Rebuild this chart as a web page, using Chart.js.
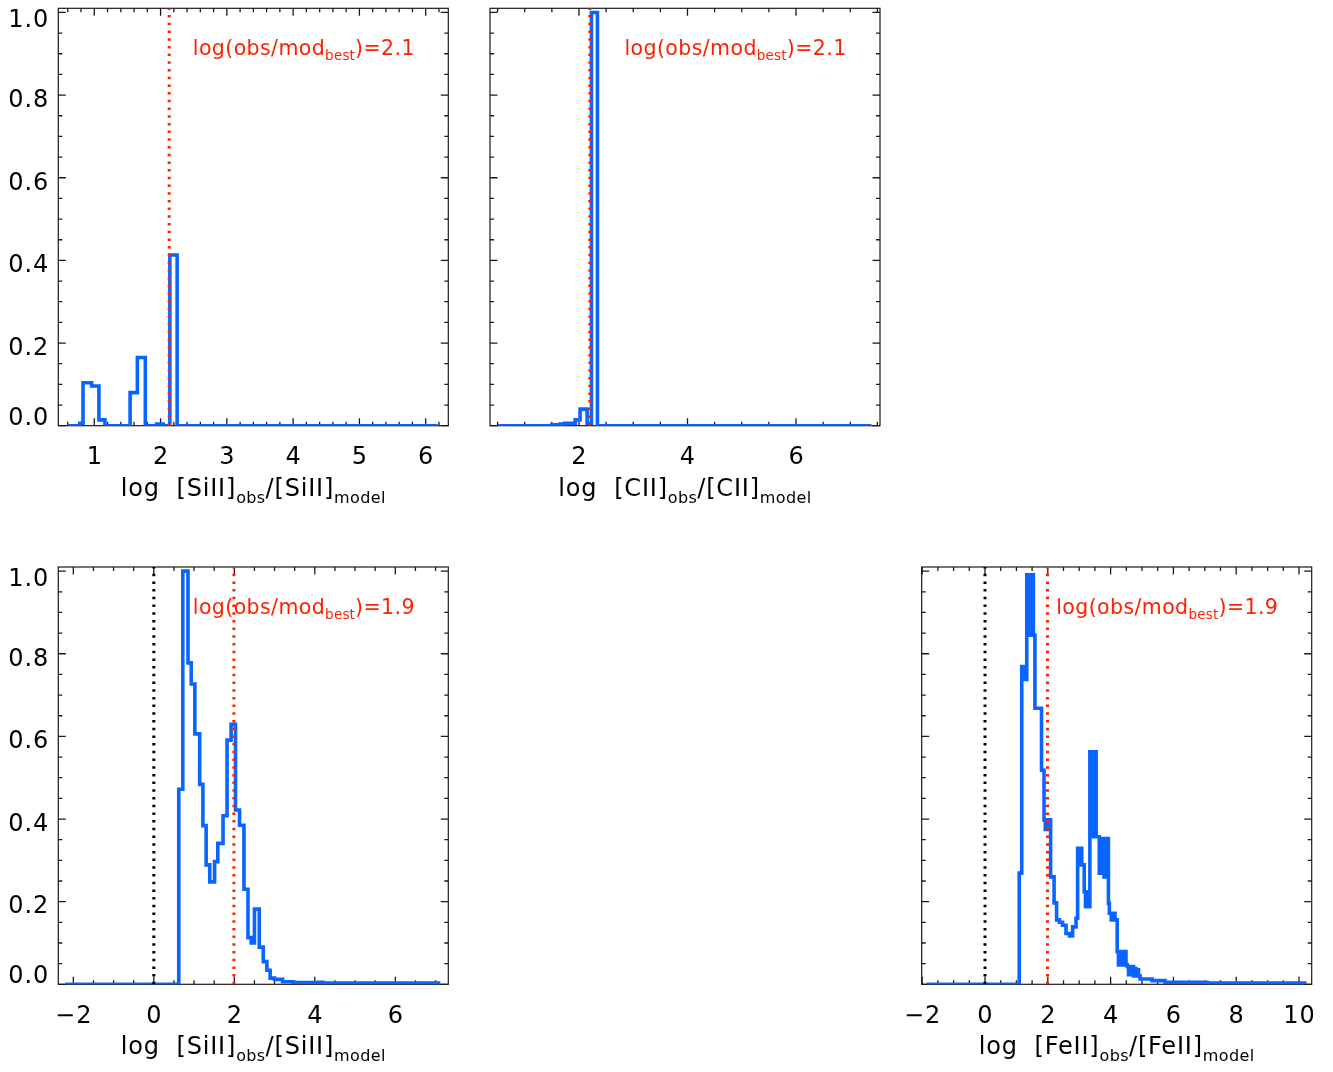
<!DOCTYPE html>
<html>
<head>
<meta charset="utf-8">
<script src="https://cdn.jsdelivr.net/npm/chart.js@4.4.1/dist/chart.umd.min.js"></script>
<style>
  html, body { margin: 0; padding: 0; background: #fff; }
  body { width: 1333px; height: 1072px; position: relative; overflow: hidden; }
  .panel { position: absolute; }
</style>
</head>
<body>
<div class="panel" style="left:0;top:0;width:460px;height:520px"><canvas id="siTop"></canvas></div>
<div class="panel" style="left:480px;top:0;width:420px;height:520px"><canvas id="cii"></canvas></div>
<div class="panel" style="left:0;top:550px;width:460px;height:522px"><canvas id="siBot"></canvas></div>
<div class="panel" style="left:890px;top:550px;width:443px;height:522px"><canvas id="feii"></canvas></div>
<script>
// histograms: left edge of each bin and its normalised count
const siTopEdges  = [0.61, 0.78, 0.83, 0.96, 1.07, 1.16, 1.54, 1.65, 1.77, 1.94, 2.04, 2.14, 2.25, 6.18];
const siTopValues = [0, 0.006, 0.104, 0.096, 0.014, 0, 0.08, 0.165, 0, 0.004, 0, 0.413, 0, 0];
const siTopBest = 2.13;

const ciiEdges  = [0.51, 1.50, 1.65, 1.74, 1.93, 2.02, 2.15, 2.23, 2.34, 7.39];
const ciiValues = [0, 0.002, 0.004, 0.006, 0.014, 0.04, 0.006, 1.0, 0, 0];
const ciiBest = 2.2;

const siBotEdges  = [-2.2, 0.62, 0.72, 0.85, 0.93, 1.02, 1.14, 1.22, 1.30, 1.39, 1.51, 1.59, 1.72, 1.82, 1.92,
                     2.03, 2.13, 2.24, 2.34, 2.42, 2.50, 2.62, 2.72, 2.81, 2.89, 3.00, 3.20, 3.45, 4.10, 4.20, 7.12];
const siBotValues = [0, 0.472, 1.0, 0.778, 0.727, 0.606, 0.484, 0.384, 0.289, 0.248, 0.297, 0.341, 0.408, 0.591, 0.629,
                     0.422, 0.385, 0.23, 0.113, 0.10, 0.182, 0.09, 0.055, 0.034, 0.015, 0.012, 0.006, 0.004, 0.005, 0.003, 0.003];
const siBotBest = 1.99;

const feEdges  = [-1.86, 1.09, 1.17, 1.21, 1.25, 1.29, 1.33, 1.37, 1.41, 1.45, 1.49, 1.54, 1.59, 1.80,
                  1.88, 1.92, 1.96, 2.00, 2.04, 2.09, 2.20, 2.28, 2.37, 2.47, 2.58, 2.69, 2.79, 2.90,
                  2.95, 3.00, 3.04, 3.08, 3.16, 3.20, 3.24, 3.28, 3.34, 3.38, 3.42, 3.46, 3.50, 3.54, 3.64,
                  3.75, 3.79, 3.83, 3.87, 3.90, 3.93, 3.96, 4.02, 4.08, 4.14, 4.21, 4.25, 4.29, 4.33, 4.37, 4.41, 4.45, 4.49,
                  4.53, 4.57, 4.61, 4.65, 4.69, 4.73, 4.77, 4.81, 4.85, 4.89, 4.94, 5.32, 5.73, 7.07, 10.24];
const feValues = [0, 0.269, 0.769, 0.738, 0.769, 0.738, 0.991, 0.845, 0.991, 0.845, 0.991, 0.845, 0.668, 0.518,
                  0.398, 0.375, 0.398, 0.375, 0.398, 0.26, 0.197, 0.156, 0.15, 0.143, 0.123, 0.117, 0.139, 0.16,
                  0.329, 0.289, 0.329, 0.289, 0.224, 0.188, 0.224, 0.188, 0.563, 0.357, 0.563, 0.357, 0.563, 0.357, 0.269,
                  0.353, 0.26, 0.353, 0.26, 0.353, 0.196, 0.172, 0.156, 0.172, 0.156, 0.079, 0.047, 0.079, 0.047, 0.079, 0.047, 0.079, 0.047,
                  0.043, 0.023, 0.043, 0.023, 0.043, 0.02, 0.038, 0.02, 0.035, 0.02, 0.013, 0.009, 0.005, 0.003, 0.003];
const feBest = 1.99;

const zeroLine = 0;
const yTop = 1.01;

const BLUE = '#0a64ff';
const RED = '#ff2000';
const INK = '#1a1a1a';
const FONT = '"DejaVu Sans", "Liberation Sans", sans-serif';

function ticksBetween(min, max, minor, major) {
  const out = [];
  for (let k = Math.ceil(min / minor - 1e-9); k * minor <= max + 1e-9; k++) {
    const v = k * minor;
    const r = v / major;
    out.push({ v, major: Math.abs(r - Math.round(r)) < 1e-6 });
  }
  return out;
}

function fmtX(v) {
  const n = Math.round(v);
  return n < 0 ? '\u2212' + Math.abs(n) : String(n);
}

// draw a run of [text, isSub] pieces starting at x
function drawPieces(ctx, pieces, x, base, size, subSize, subDrop, spacing) {
  for (const [txt, sub] of pieces) {
    ctx.font = (sub ? subSize : size) + 'px ' + FONT;
    ctx.letterSpacing = (sub ? spacing / 2 : spacing) + 'px';
    ctx.fillText(txt, x, sub ? base + subDrop : base);
    x += ctx.measureText(txt).width;
  }
  return x;
}
function piecesWidth(ctx, pieces, size, subSize, spacing) {
  let w = 0;
  for (const [txt, sub] of pieces) {
    ctx.font = (sub ? subSize : size) + 'px ' + FONT;
    ctx.letterSpacing = (sub ? spacing / 2 : spacing) + 'px';
    w += ctx.measureText(txt).width;
  }
  return w;
}

// IDL-like box: inward ticks on all sides, labels, axis title, best-fit note
const idlFrame = {
  id: 'idlFrame',
  beforeDatasetsDraw(chart, args, o) {
    const { ctx, chartArea: a, scales: { x, y } } = chart;
    ctx.save();

    // note (under the dotted lines)
    ctx.fillStyle = RED;
    ctx.textAlign = 'left';
    ctx.textBaseline = 'alphabetic';
    drawPieces(ctx, [['log(obs/mod', false], ['best', true], [')=' + o.note, false]],
      a.left + 134.5, a.top + 47, 20.5, 13.5, 5, 0.4);

    // frame
    ctx.strokeStyle = INK;
    ctx.lineWidth = 1.2;
    ctx.strokeRect(a.left, a.top, a.right - a.left, a.bottom - a.top);

    ctx.lineWidth = 1.3;
    ctx.beginPath();
    for (const t of ticksBetween(x.min, x.max, o.xMinor, o.xMajor)) {
      const px = x.getPixelForValue(t.v);
      const len = t.major ? 7.5 : 4;
      ctx.moveTo(px, a.bottom); ctx.lineTo(px, a.bottom - len);
      ctx.moveTo(px, a.top); ctx.lineTo(px, a.top + len);
    }
    for (const t of ticksBetween(0, y.max, 0.05, 0.2)) {
      const py = y.getPixelForValue(t.v);
      const len = t.major ? 7.5 : 4;
      ctx.moveTo(a.left, py); ctx.lineTo(a.left + len, py);
      ctx.moveTo(a.right, py); ctx.lineTo(a.right - len, py);
    }
    ctx.stroke();

    // tick labels
    ctx.fillStyle = '#000';
    ctx.font = '24px ' + FONT;
    ctx.letterSpacing = '1px';
    ctx.textAlign = 'center';
    for (const t of ticksBetween(x.min, x.max, o.xMajor, o.xMajor)) {
      ctx.fillText(fmtX(t.v), x.getPixelForValue(t.v) + 0.5, a.bottom + 38.3);
    }
    if (o.yLabels) {
      ctx.textAlign = 'right';
      for (const t of ticksBetween(0, y.max, 0.2, 0.2)) {
        const py = y.getPixelForValue(t.v);
        const base = Math.min(Math.max(py + 11.8, a.top + 19), a.bottom - 1);
        ctx.fillText(t.v.toFixed(1), a.left - 9, base);
      }
    }

    // axis title with subscripts
    ctx.textAlign = 'left';
    const ion = o.ion;
    const title = [['log  [' + ion + ']', false], ['obs', true], ['/[' + ion + ']', false], ['model', true]];
    const w = piecesWidth(ctx, title, 24, 16, 0.8);
    drawPieces(ctx, title, (a.left + a.right) / 2 - w / 2, a.bottom + 70, 24, 16, 7, 0.8);

    ctx.restore();
  }
};

function vline(xv, color) {
  return {
    data: [{ x: xv, y: 0 }, { x: xv, y: yTop }],
    borderColor: color,
    borderWidth: 3,
    borderDash: [2.5, 5.2],
    pointRadius: 0
  };
}

function histPanel(id, edges, values, best, showZero, cfg) {
  const datasets = [vline(best, RED)];
  if (showZero) datasets.push(vline(zeroLine, '#000'));
  datasets.push({
    data: edges.map((e, i) => ({ x: e, y: values[i] })),
    borderColor: BLUE,
    borderWidth: 3.6,
    stepped: true,
    pointRadius: 0
  });
  return new Chart(document.getElementById(id), {
    type: 'line',
    data: { datasets },
    options: {
      responsive: true,
      maintainAspectRatio: false,
      animation: false,
      events: [],
      layout: { padding: cfg.pad },
      scales: {
        x: { type: 'linear', min: cfg.xMin, max: cfg.xMax, display: false },
        y: { type: 'linear', min: 0, max: yTop, display: false }
      },
      plugins: {
        legend: { display: false },
        tooltip: { enabled: false },
        idlFrame: { xMajor: cfg.xMajor, xMinor: cfg.xMinor, yLabels: cfg.yLabels, ion: cfg.ion, note: cfg.note }
      }
    },
    plugins: [idlFrame]
  });
}

histPanel('siTop', siTopEdges, siTopValues, siTopBest, false, {
  pad: { left: 58.3, top: 8.3, right: 11.7, bottom: 94.3 },
  xMin: 0.457, xMax: 6.341, xMajor: 1, xMinor: 0.2, yLabels: true, ion: 'SiII', note: '2.1'
});
histPanel('cii', ciiEdges, ciiValues, ciiBest, false, {
  pad: { left: 10, top: 8.3, right: 20, bottom: 94.3 },
  xMin: 0.36, xMax: 7.548, xMajor: 2, xMinor: 0.5, yLabels: false, ion: 'CII', note: '2.1'
});
histPanel('siBot', siBotEdges, siBotValues, siBotBest, true, {
  pad: { left: 58.3, top: 17, right: 11.7, bottom: 87.7 },
  xMin: -2.373, xMax: 7.317, xMajor: 2, xMinor: 0.5, yLabels: true, ion: 'SiII', note: '1.9'
});
histPanel('feii', feEdges, feValues, feBest, true, {
  pad: { left: 31.7, top: 17, right: 21.3, bottom: 87.7 },
  xMin: -2.016, xMax: 10.404, xMajor: 2, xMinor: 0.5, yLabels: false, ion: 'FeII', note: '1.9'
});
</script>
</body>
</html>
